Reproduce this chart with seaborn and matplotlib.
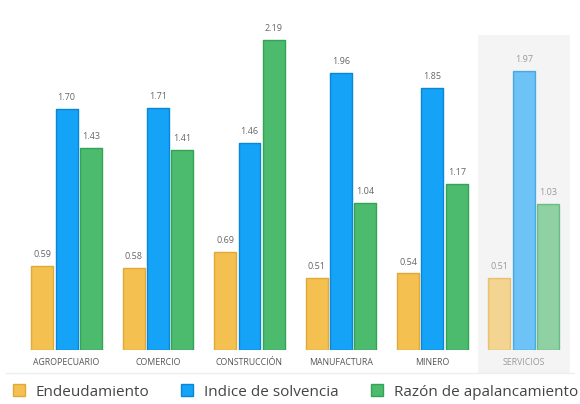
import matplotlib
matplotlib.use("Agg")
import matplotlib.pyplot as plt
from matplotlib.lines import Line2D
import seaborn as sns
import pandas as pd

categories = ["AGROPECUARIO", "COMERCIO", "CONSTRUCCIÓN", "MANUFACTURA", "MINERO", "SERVICIOS"]
series = ["Endeudamiento", "Indice de solvencia", "Razón de apalancamiento"]
endeudamiento = [0.59, 0.58, 0.69, 0.51, 0.54, 0.51]
solvencia = [1.70, 1.71, 1.46, 1.96, 1.85, 1.97]
apalancamiento = [1.43, 1.41, 2.19, 1.04, 1.17, 1.03]
colors = ["#F4C04F", "#14A3F7", "#4CBB6E"]
edges = ["#E0A93A", "#0A86D6", "#33A356"]

rows = []
for name, vals in zip(series, [endeudamiento, solvencia, apalancamiento]):
    for c, v in zip(categories, vals):
        rows.append({"cat": c, "serie": name, "valor": v})
df = pd.DataFrame(rows)

sns.set_theme(style="white")
plt.rcParams["font.family"] = ["Open Sans", "DejaVu Sans"]

fig = plt.figure(figsize=(5.8, 4.04), dpi=100)
ax = fig.add_axes([0.036, 0.134, 0.946, 0.779])

ax.axvspan(4.5, 5.5, ymin=-0.073, ymax=1, color="#F4F4F4", zorder=0, clip_on=False, lw=0)

sns.barplot(data=df, x="cat", y="valor", hue="serie", order=categories, hue_order=series,
            palette=colors, saturation=1, width=0.8, gap=0.1, ax=ax, legend=False, zorder=2)

for i, cont in enumerate(ax.containers):
    for j, bar in enumerate(cont):
        bar.set_edgecolor(edges[i])
        bar.set_linewidth(1.0)
        bar.set_joinstyle("round")
        if j == 5:
            bar.set_alpha(0.6)
    labels = ax.bar_label(cont, fmt="%.2f", padding=5, fontsize=6.5, color="#666666")
    labels[5].set_color("#999999")

ax.set_xlim(-0.5, 5.5)
ax.set_ylim(0, 2.225)
ax.set_xlabel("")
ax.set_ylabel("")
ax.set_yticks([])
sns.despine(ax=ax, left=True, bottom=True)
ax.tick_params(axis="x", length=0, pad=6, labelsize=6.3, labelcolor="#555555")
ax.get_xticklabels()[5].set_color("#9A9A9A")

fig.add_artist(Line2D([0.01, 0.99], [1 - 373 / 404, 1 - 373 / 404], color="#EEEEEE", lw=1))

handles = [Line2D([], [], marker="s", linestyle="", markersize=9, markerfacecolor=c,
                  markeredgecolor=e, markeredgewidth=1) for c, e in zip(colors, edges)]
fig.legend(handles, series, loc="center", bbox_to_anchor=(0.508, 1 - 392 / 404), ncol=3,
           frameon=False, fontsize=11, labelcolor="#444444", handletextpad=0.6,
           columnspacing=2.0, handlelength=1.0)

fig.savefig("out.png", dpi=100)
